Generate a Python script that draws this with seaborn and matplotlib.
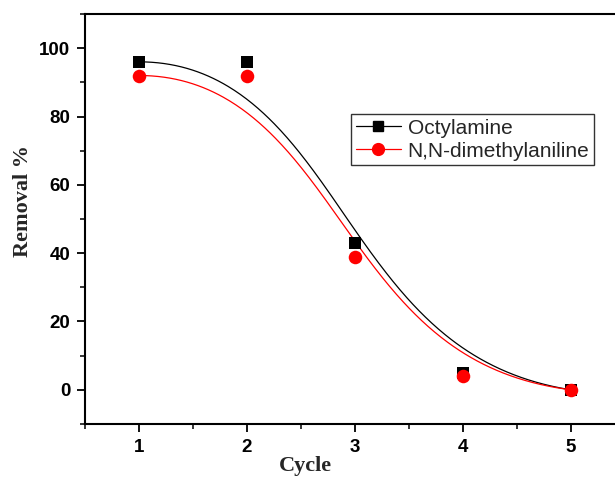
import numpy as np
import pandas as pd
import matplotlib
matplotlib.use("Agg")
import matplotlib.pyplot as plt
from matplotlib.lines import Line2D
from matplotlib.ticker import MultipleLocator
import seaborn as sns

# data
cycle = [1, 2, 3, 4, 5]
octylamine = [96, 96, 43, 5, 0]
dimethylaniline = [92, 92, 39, 4, 0]
names = ["Octylamine", "N,N-dimethylaniline"]


# B-spline connector (curve starts/ends on first/last point, like Origin)
def bspline(xs, ys, n=300, k=3):
    pts = np.column_stack([xs, ys]).astype(float)
    m = len(pts)
    knots = np.concatenate([[0.0] * k, np.linspace(0, 1, m - k + 1), [1.0] * k])
    t = np.linspace(0, 1 - 1e-9, n)
    N = np.zeros((n, len(knots) - 1))
    for i in range(len(knots) - 1):
        N[:, i] = (t >= knots[i]) & (t < knots[i + 1])
    for d in range(1, k + 1):
        Nn = np.zeros((n, len(knots) - 1 - d))
        for i in range(len(knots) - 1 - d):
            a = knots[i + d] - knots[i]
            b = knots[i + d + 1] - knots[i + 1]
            left = (t - knots[i]) / a * N[:, i] if a > 0 else 0
            right = (knots[i + d + 1] - t) / b * N[:, i + 1] if b > 0 else 0
            Nn[:, i] = left + right
        N = Nn
    c = N @ pts
    return c[:, 0], c[:, 1]


df = pd.DataFrame({"Cycle": cycle * 2,
                   "Removal": octylamine + dimethylaniline,
                   "Amine": [names[0]] * 5 + [names[1]] * 5})

sns.set_style("ticks")
plt.rcParams["font.family"] = ["Liberation Sans", "DejaVu Sans"]

fig = plt.figure(figsize=(6.15, 4.78), dpi=100)
ax = fig.add_axes([0.1382, 0.1130, 0.878, 0.8577])

colors = ["black", "#ff0000"]
markers = ["s", "o"]
for name, yvals, col, mk in zip(names, [octylamine, dimethylaniline], colors, markers):
    cx, cy = bspline(cycle, yvals)
    sns.lineplot(x=cx, y=cy, color=col, lw=0.9, sort=False, ax=ax)
    sub = df[df["Amine"] == name]
    sns.scatterplot(data=sub, x="Cycle", y="Removal", color=col, marker=mk,
                    s=70 if mk == "s" else 95, edgecolor=col, linewidth=0, ax=ax, zorder=3)

ax.set_xlim(0.5, 5.5)
ax.set_ylim(-10, 110)
ax.xaxis.set_major_locator(MultipleLocator(1))
ax.xaxis.set_minor_locator(MultipleLocator(0.5))
ax.yaxis.set_major_locator(MultipleLocator(20))
ax.yaxis.set_minor_locator(MultipleLocator(10))
ax.tick_params(which="major", direction="out", length=6, width=1.3, pad=4.5,
               labelsize=13.5, colors="black")
ax.tick_params(which="minor", direction="out", length=3.5, width=1.3)
for lab in ax.get_xticklabels() + ax.get_yticklabels():
    lab.set_fontweight("bold")
for sp in ax.spines.values():
    sp.set_linewidth(1.5)
    sp.set_color("black")

ax.set_xlabel("Cycle", fontsize=16, fontweight="bold", family="Liberation Serif")
ax.set_ylabel("Removal %", fontsize=16, fontweight="bold", family="Liberation Serif")
ax.xaxis.set_label_coords(0.409, -0.078)
ax.yaxis.set_label_coords(-0.097, 0.544)

handles = [Line2D([], [], color=c, marker=m, lw=0.9, markersize=7.5 if m == "s" else 8.5)
           for c, m in zip(colors, markers)]
leg = ax.legend(handles, names, loc="upper left", bbox_to_anchor=(0.4926, 0.756),
                borderaxespad=0, fontsize=15, frameon=True, fancybox=False,
                handlelength=2.2, handletextpad=0.3, labelspacing=0.2,
                borderpad=0.22)
leg.get_frame().set_edgecolor("black")
leg.get_frame().set_linewidth(1.0)

fig.savefig("out.png", dpi=100)
